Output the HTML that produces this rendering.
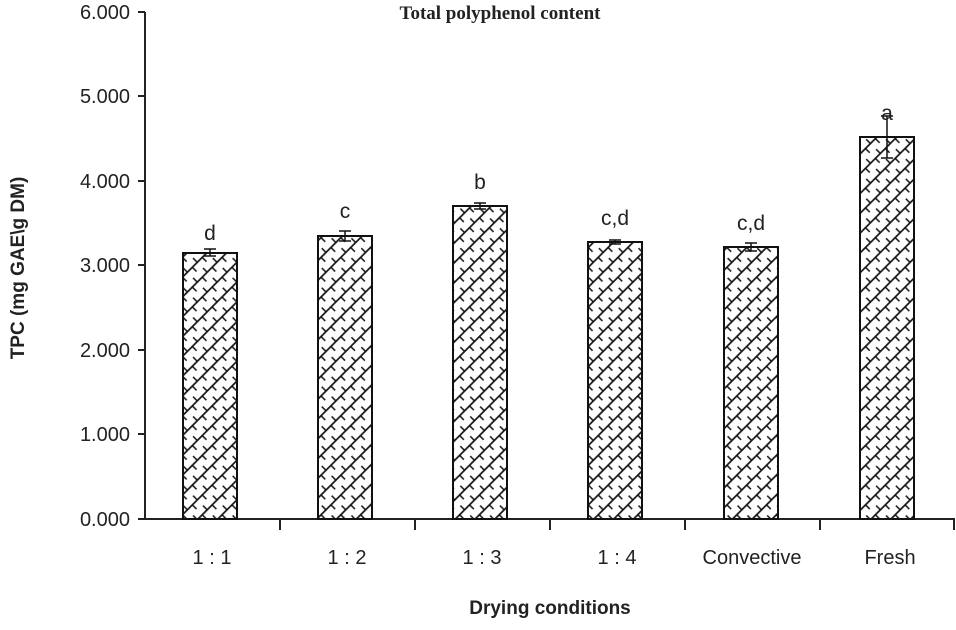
<!DOCTYPE html>
<html><head><style>
body{margin:0;background:#fff}
svg text{font-family:"Liberation Sans",sans-serif;fill:#222}
</style></head><body>
<svg width="956" height="625" xmlns="http://www.w3.org/2000/svg">
<defs>
<pattern id="p" width="14" height="14" patternUnits="userSpaceOnUse" patternTransform="rotate(-45)">
<rect width="14" height="14" fill="#fff"/>
<line x1="0" y1="3" x2="14" y2="3" stroke="#111" stroke-width="1.7"/>
<line x1="3" y1="3" x2="3" y2="9" stroke="#111" stroke-width="1.5"/>
<line x1="10" y1="11" x2="10" y2="17" stroke="#111" stroke-width="1.5"/>
<line x1="10" y1="-3" x2="10" y2="3" stroke="#111" stroke-width="1.5"/>
</pattern>
</defs>
<text x="500" y="19" font-weight="bold" font-size="19" text-anchor="middle" style="font-family:'Liberation Serif',serif">Total polyphenol content</text>
<g stroke="#222" stroke-width="2" fill="none">
<line x1="145" y1="12" x2="145" y2="519"/>
<line x1="145" y1="519" x2="955" y2="519"/>
<line x1="138" y1="12" x2="145" y2="12"/><line x1="138" y1="96" x2="145" y2="96"/><line x1="138" y1="181" x2="145" y2="181"/><line x1="138" y1="265" x2="145" y2="265"/><line x1="138" y1="350" x2="145" y2="350"/><line x1="138" y1="434" x2="145" y2="434"/><line x1="138" y1="519" x2="145" y2="519"/>
<line x1="280" y1="519" x2="280" y2="530"/><line x1="415" y1="519" x2="415" y2="530"/><line x1="550" y1="519" x2="550" y2="530"/><line x1="685" y1="519" x2="685" y2="530"/><line x1="820" y1="519" x2="820" y2="530"/><line x1="954" y1="519" x2="954" y2="530"/>
</g>
<g font-size="20" text-anchor="end">
<text x="130" y="19">6.000</text><text x="130" y="103">5.000</text><text x="130" y="188">4.000</text><text x="130" y="272">3.000</text><text x="130" y="357">2.000</text><text x="130" y="441">1.000</text><text x="130" y="526">0.000</text>
</g>
<g stroke="#111" stroke-width="2" fill="url(#p)">
<rect x="183" y="253" width="54" height="266"/>
<rect x="318" y="236" width="54" height="283"/>
<rect x="453" y="206" width="54" height="313"/>
<rect x="588" y="242" width="54" height="277"/>
<rect x="724" y="247" width="54" height="272"/>
<rect x="860" y="137" width="54" height="382"/>
</g>
<g stroke="#111" stroke-width="1.5">
<line x1="210" y1="249" x2="210" y2="256"/><line x1="204" y1="249" x2="216" y2="249"/><line x1="204" y1="256" x2="216" y2="256"/>
<line x1="345" y1="231" x2="345" y2="241"/><line x1="339" y1="231" x2="351" y2="231"/><line x1="339" y1="241" x2="351" y2="241"/>
<line x1="480" y1="203" x2="480" y2="209"/><line x1="474" y1="203" x2="486" y2="203"/><line x1="474" y1="209" x2="486" y2="209"/>
<line x1="615" y1="240" x2="615" y2="244"/><line x1="609" y1="240" x2="621" y2="240"/><line x1="609" y1="244" x2="621" y2="244"/>
<line x1="751" y1="243" x2="751" y2="251"/><line x1="745" y1="243" x2="757" y2="243"/><line x1="745" y1="251" x2="757" y2="251"/>
<line x1="887" y1="116" x2="887" y2="158"/><line x1="881" y1="116" x2="893" y2="116"/><line x1="881" y1="158" x2="893" y2="158"/>
</g>
<g font-size="21" text-anchor="middle">
<text x="210" y="240">d</text><text x="345" y="218">c</text><text x="480" y="189">b</text><text x="615" y="225">c,d</text><text x="751" y="230">c,d</text><text x="887" y="120">a</text>
</g>
<g font-size="20" text-anchor="middle">
<text x="212" y="564">1 : 1</text><text x="347" y="564">1 : 2</text><text x="482" y="564">1 : 3</text><text x="617" y="564">1 : 4</text><text x="752" y="564">Convective</text><text x="890" y="564">Fresh</text>
</g>
<text x="550" y="614" font-size="19" font-weight="bold" text-anchor="middle">Drying conditions</text>
<text transform="translate(24,268) rotate(-90)" font-size="19" font-weight="bold" text-anchor="middle">TPC (mg GAE\g DM)</text>
</svg>
</body></html>
